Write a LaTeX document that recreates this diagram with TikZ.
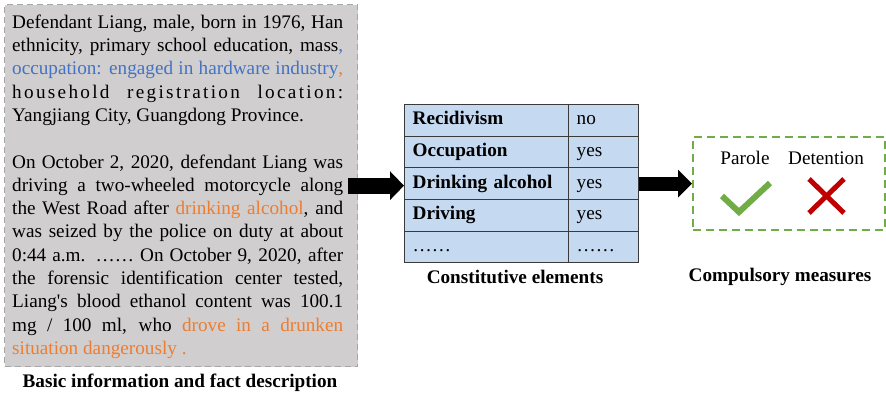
\documentclass[tikz,border=0pt]{standalone}
\usepackage{fontspec}
\setmainfont{Liberation Serif}
\usetikzlibrary{arrows.meta,matrix,positioning}

\definecolor{boxgray}{HTML}{D0CECE}
\definecolor{dashgray}{HTML}{A5A5A5}
\definecolor{tabblue}{HTML}{C5D9F1}
\definecolor{tabline}{HTML}{3A3A3A}
\definecolor{txtblue}{HTML}{4472C4}
\definecolor{txtorange}{HTML}{ED7D31}
\definecolor{okgreen}{HTML}{70AD47}
\definecolor{nored}{HTML}{C00000}

\newcommand{\bodyfont}{\fontsize{19.2}{23.3}\selectfont}

\tikzset{
  infobox/.style={draw=dashgray,fill=boxgray,line width=1.3pt,dash pattern=on 6pt off 4pt,inner sep=0pt},
  factstext/.style={text width=331pt,align=justify,inner sep=0pt,font=\bodyfont},
  cell/.style={draw=tabline,fill=tabblue,line width=.9pt,minimum height=31.6pt,inner xsep=8pt,inner ysep=0pt,align=left,text height=13pt,text depth=4pt},
  measurebox/.style={draw=okgreen,line width=1.8pt,dash pattern=on 8pt off 5pt,inner sep=0pt},
  caption/.style={font=\bodyfont\bfseries},
  fatarrow/.style={line width=16pt,-{Triangle[length=14pt,width=28pt]}},
  slimarrow/.style={line width=14pt,-{Triangle[length=14pt,width=27pt]}},
}

\begin{document}
\begin{tikzpicture}[x=1pt,y=-1pt,every node/.style={font=\bodyfont}]
\useasboundingbox (0,0) rectangle (886,396);

% facts
\node[infobox,minimum width=353pt,minimum height=362pt,anchor=north west] (info) at (4,4) {};
\node[factstext,anchor=north west] (facts) at (12,14.5) {%
Defendant Liang, male, born in 1976, Han\linebreak
ethnicity, primary school education, mass{\color{txtblue},}\linebreak
{\color{txtblue}occupation: engaged in hardware industry}{\color{txtorange},}\linebreak
{\addfontfeature{LetterSpace=12}household registration location:}\linebreak
Yangjiang City, Guangdong Province.\\[23.3pt]
On October 2, 2020, defendant Liang was\linebreak
driving a two-wheeled motorcycle along\linebreak
the West Road after {\color{txtorange}drinking alcohol}, and\linebreak
was seized by the police on duty at about\linebreak
0:44 a.m. …… On October 9, 2020, after\linebreak
the forensic identification center tested,\linebreak
Liang\textquotesingle s blood ethanol content was 100.1\linebreak
mg / 100 ml, who {\color{txtorange}drove in a drunken}\linebreak
{\color{txtorange}situation dangerously .}};
\node[caption] (infocap) at (180,383) {Basic information and fact description};

% elements
\matrix (elems) [matrix of nodes,anchor=north west,inner sep=0pt,
  column sep=-.9pt,row sep=-.9pt,nodes={cell},
  column 1/.style={nodes={text width=148pt,font=\bodyfont\bfseries}},
  column 2/.style={nodes={text width=54pt}}] at (404,104) {
Recidivism & no \\
Occupation & yes \\
Drinking alcohol & yes \\
Driving & yes \\
\mdseries …… & …… \\
};
\node[caption] (elemcap) at (515,277) {Constitutive elements};

% measures
\node[measurebox,minimum width=192pt,minimum height=93pt,anchor=north west] (measure) at (692,136) {};
\node (parole) at (745,158) {Parole};
\node (detention) at (826,158) {Detention};
\draw[okgreen,line width=6pt] (722,196) -- (739,212) -- (770,183);
\draw[nored,line width=5pt] (809,179) -- (844,213);
\draw[nored,line width=5pt] (809,213) -- (844,179);
\node[caption] (measurecap) at (780,277) {Compulsory measures};

\draw[fatarrow] ([xshift=-10pt]info.east) -- (info.east -| elems.west);
\draw[slimarrow] (elems.east) -- (elems.east -| measure.west);
\end{tikzpicture}
\end{document}
